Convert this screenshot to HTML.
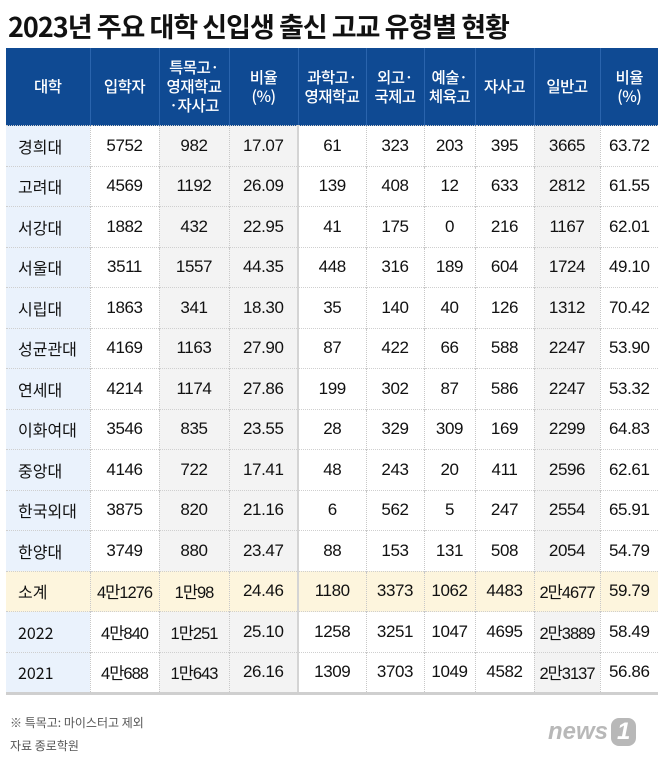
<!DOCTYPE html>
<html><head><meta charset="utf-8"><style>
body{margin:0;width:658px;height:763px;background:#fff;font-family:"Liberation Sans","Noto Sans CJK KR",sans-serif;position:relative;overflow:hidden}
h1{position:absolute;left:8px;top:6px;margin:0;font-size:27px;font-weight:bold;color:#111;letter-spacing:-1px;font-family:"Noto Sans CJK KR","Liberation Sans",sans-serif}
table{position:absolute;left:6px;top:48px;width:652px;border-collapse:collapse;table-layout:fixed}
th{background:#0f4a93;color:#fff;font-weight:500;font-size:15.5px;line-height:19px;height:77px;padding:0;border-left:1px solid #2a64ad;font-family:"Noto Sans CJK KR",sans-serif;letter-spacing:-0.5px}
th:first-child{border-left:none}
td{height:39.5px;padding:0;text-align:center;font-size:17px;letter-spacing:-0.4px;color:#111;border-left:1px dotted #c8c8c8;border-top:1px dotted #cfcfcf;white-space:nowrap}
td.k{font-size:16.5px;letter-spacing:-1px}
td:first-child{border-left:none;background:#eaf2fc;font-family:"Noto Sans CJK KR",sans-serif;font-size:16px;text-align:left;padding-left:12px;letter-spacing:0}
td.g{background:#f3f3f3}
td.s{border-left:2px solid #d4d4d4}
tr.sum td{background:#fdf5dd}
tr.last td{border-bottom:3px solid #cfcfcf}
.note{position:absolute;left:10px;font-size:12px;color:#555;font-family:"Noto Sans CJK KR",sans-serif}
.logo{position:absolute;left:548px;top:718px;font:italic bold 24px "Liberation Sans",sans-serif;color:#b8b8b8}
.logo span{display:inline-block;background:#b8b8b8;color:#fff;border-radius:8px;padding:0 6px;margin-left:3px}
</style></head><body>
<h1>2023년 주요 대학 신입생 출신 고교 유형별 현황</h1>
<table>
<colgroup><col style="width:84px"><col style="width:69px"><col style="width:70px"><col style="width:69px"><col style="width:68px"><col style="width:58px"><col style="width:51px"><col style="width:59px"><col style="width:66px"><col style="width:58px"></colgroup>
<thead><tr><th>대학</th><th>입학자</th><th>특목고·<br>영재학교<br>·자사고</th><th>비율<br>(%)</th><th>과학고·<br>영재학교</th><th>외고·<br>국제고</th><th>예술·<br>체육고</th><th>자사고</th><th>일반고</th><th>비율<br>(%)</th></tr></thead>
<tbody id="tb"></tbody></table>
<div class="note" style="top:714px">※ 특목고: 마이스터고 제외</div>
<div class="note" style="top:737px">자료 종로학원</div>
<div class="logo">news<span>1</span></div>
<script>
const rows=[
["경희대","5752","982","17.07","61","323","203","395","3665","63.72"],
["고려대","4569","1192","26.09","139","408","12","633","2812","61.55"],
["서강대","1882","432","22.95","41","175","0","216","1167","62.01"],
["서울대","3511","1557","44.35","448","316","189","604","1724","49.10"],
["시립대","1863","341","18.30","35","140","40","126","1312","70.42"],
["성균관대","4169","1163","27.90","87","422","66","588","2247","53.90"],
["연세대","4214","1174","27.86","199","302","87","586","2247","53.32"],
["이화여대","3546","835","23.55","28","329","309","169","2299","64.83"],
["중앙대","4146","722","17.41","48","243","20","411","2596","62.61"],
["한국외대","3875","820","21.16","6","562","5","247","2554","65.91"],
["한양대","3749","880","23.47","88","153","131","508","2054","54.79"],
["소계","4만1276","1만98","24.46","1180","3373","1062","4483","2만4677","59.79"],
["2022","4만840","1만251","25.10","1258","3251","1047","4695","2만3889","58.49"],
["2021","4만688","1만643","26.16","1309","3703","1049","4582","2만3137","56.86"]];
const tb=document.getElementById('tb');
rows.forEach((r,i)=>{
 const tr=document.createElement('tr');
 
 
 if(r[0]==='소계')tr.className='sum';
 if(i===rows.length-1)tr.className='last';
 r.forEach((v,j)=>{const td=document.createElement('td');td.textContent=v;
  if(j===2||j===3||j===8)td.classList.add('g');
  if(j===4)td.classList.add('s');
  if(j>0&&/만/.test(v))td.classList.add('k');
  tr.appendChild(td);});
 tb.appendChild(tr);
});
</script>
</body></html>
